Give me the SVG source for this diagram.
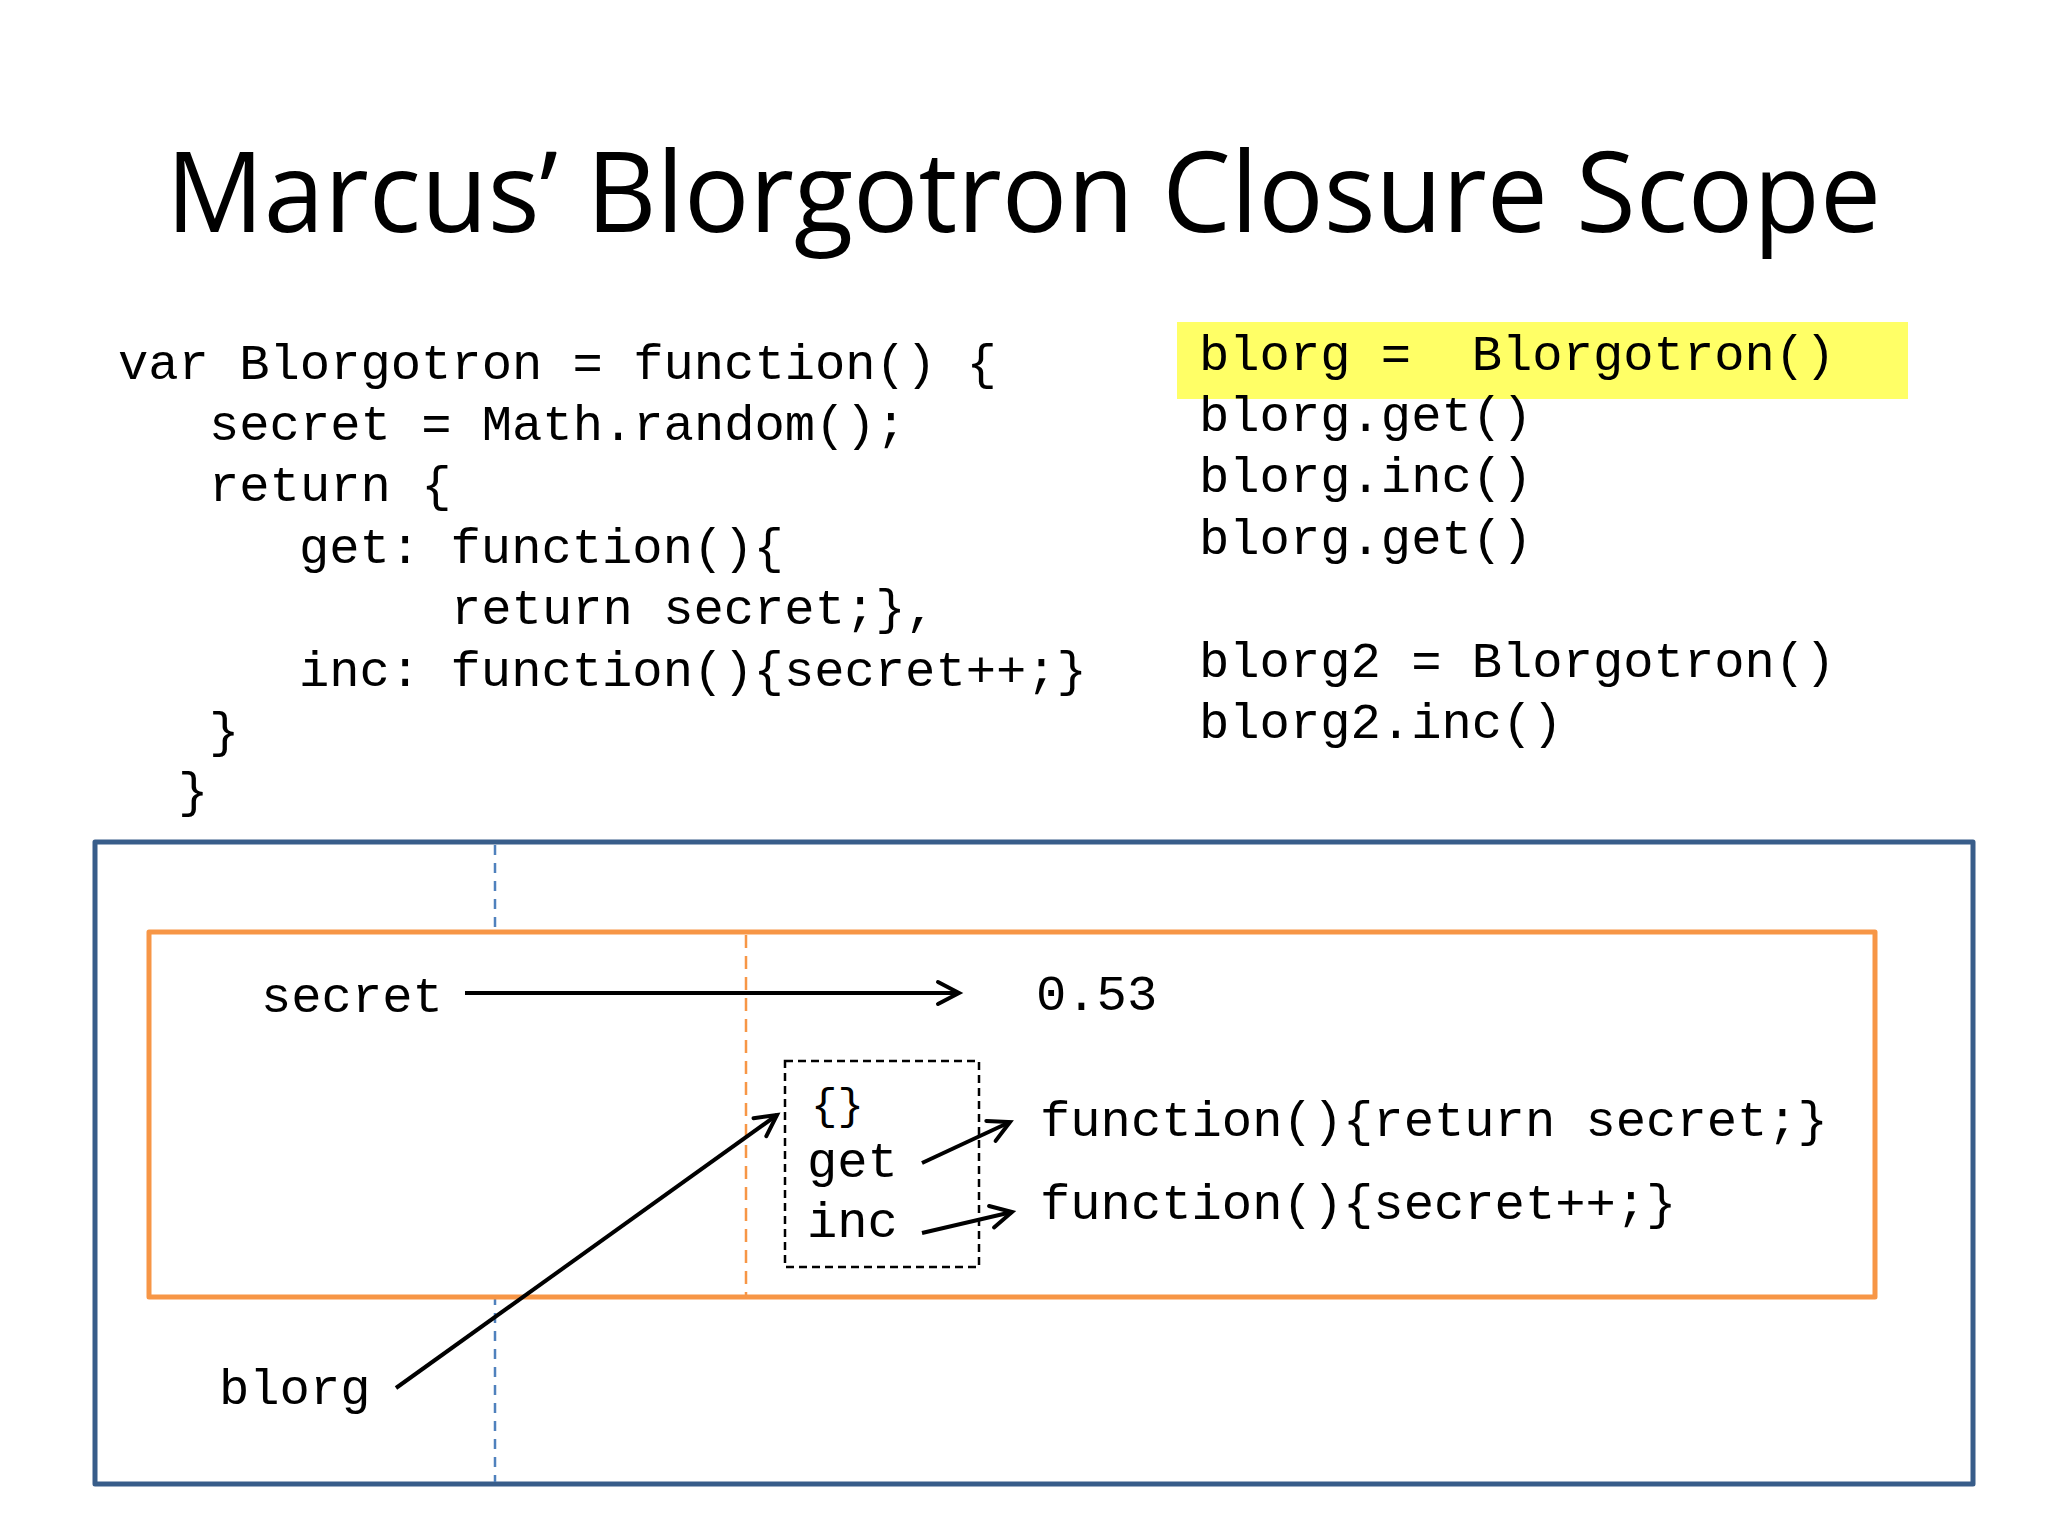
<svg xmlns="http://www.w3.org/2000/svg" width="2048" height="1536" viewBox="0 0 2048 1536">
<defs>
<style>
.title{font-family:"Open Sans","Liberation Sans",sans-serif;font-size:112px;fill:#000}
.code{font-family:"Liberation Mono","Courier New",monospace;font-size:50.5px;fill:#000}
.small{font-size:44px}
.arrow{stroke:#000;stroke-width:4;fill:none;marker-end:url(#open)}
</style>
<marker id="open" viewBox="-26 -16 32 32" refX="0" refY="0" markerWidth="32" markerHeight="32" markerUnits="userSpaceOnUse" orient="auto">
<path d="M-21,-11 L0,0 L-21,11" fill="none" stroke="#000" stroke-width="4" stroke-linejoin="miter" stroke-linecap="round"/>
</marker>
</defs>
<rect width="2048" height="1536" fill="#fff"/>
<text class="title" x="166" y="232" textLength="1715" lengthAdjust="spacingAndGlyphs">Marcus’ Blorgotron Closure Scope</text>

<g id="code-left" class="code">
<text x="118" y="379">var Blorgotron = function() {</text>
<text x="209" y="440">secret = Math.random();</text>
<text x="209" y="501">return {</text>
<text x="299" y="563">get: function(){</text>
<text x="451" y="624">return secret;},</text>
<text x="299" y="686">inc: function(){secret++;}</text>
<text x="209" y="747">}</text>
<text x="178" y="807">}</text>
</g>

<g id="code-right" class="code">
<rect x="1177" y="322" width="731" height="77" fill="#FFFF66"/>
<text x="1199" y="370" xml:space="preserve">blorg =  Blorgotron()</text>
<text x="1199" y="431">blorg.get()</text>
<text x="1199" y="492">blorg.inc()</text>
<text x="1199" y="554">blorg.get()</text>
<text x="1199" y="677">blorg2 = Blorgotron()</text>
<text x="1199" y="738">blorg2.inc()</text>
</g>

<g id="global-scope">
<rect x="95" y="842" width="1878" height="642" fill="#fff" stroke="#385D8A" stroke-width="5" stroke-linejoin="round"/>
<line x1="495" y1="845" x2="495" y2="1482" stroke="#4F81BD" stroke-width="2.5" stroke-dasharray="10,8"/>
</g>

<g id="closure-scope">
<rect x="149" y="932" width="1726" height="365" fill="#fff" stroke="#F79646" stroke-width="5" stroke-linejoin="round"/>
<line x1="746" y1="935" x2="746" y2="1295" stroke="#F79646" stroke-width="2.5" stroke-dasharray="13,8"/>
</g>

<g id="secret-var"><text class="code" x="261" y="1012">secret</text></g>
<g id="value"><text class="code" x="1036" y="1010">0.53</text></g>

<g id="object">
<rect x="785" y="1061" width="194" height="206" fill="none" stroke="#000" stroke-width="2.5" stroke-dasharray="8,5"/>
<text class="code small" x="811" y="1119">{}</text>
<text class="code" x="807" y="1177">get</text>
<text class="code" x="807" y="1237">inc</text>
</g>

<g id="fn-get"><text class="code" x="1040" y="1136">function(){return secret;}</text></g>
<g id="fn-inc"><text class="code" x="1040" y="1219">function(){secret++;}</text></g>
<g id="blorg-var"><text class="code" x="219" y="1404">blorg</text></g>

<g id="connectors">
<line class="arrow" x1="465" y1="993" x2="959" y2="993"/>
<line class="arrow" x1="922" y1="1163" x2="1010" y2="1122"/>
<line class="arrow" x1="922" y1="1233" x2="1012" y2="1212"/>
<line class="arrow" x1="396" y1="1388" x2="777" y2="1115"/>
</g>
</svg>
